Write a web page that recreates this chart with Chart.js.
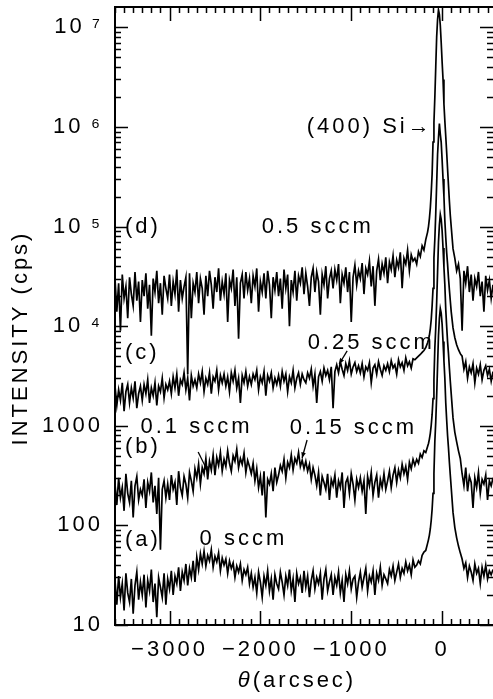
<!DOCTYPE html>
<html>
<head>
<meta charset="utf-8">
<script src="https://cdn.jsdelivr.net/npm/chart.js@4.4.0/dist/chart.umd.min.js"></script>
<style>
  html, body { margin: 0; padding: 0; background: #fff; }
</style>
</head>
<body>
<canvas id="myChart" width="493" height="699"></canvas>
<script>
// scan angles (arcsec): 20" steps on the background, finer steps across the Si peak
var theta = [];
for (var t = -3600; t <= -320; t += 20) theta.push(t);
var peakTheta = [-300, -280, -260, -240, -220, -200, -180, -160,
  -150, -140, -130, -120, -110, -100, -90, -80, -70, -60, -50, -40, -30, -20, -10,
  0, 10, 20, 30, 40, 50, 60, 70, 80, 90, 100,
  120, 140, 160, 180, 200];
var rightTheta = [220, 240, 260, 280, 300, 320, 340, 360, 380, 400, 420, 440, 460, 480, 500, 520, 540, 560];
theta = theta.concat(peakTheta, rightTheta);

// (a) 0 sccm
var curveA = [
  28, 16, 31, 19, 26, 14, 33, 21, 17, 29, 13, 25, 34, 18, 27,
  20, 32, 15, 28, 22, 36, 17, 26, 12, 30, 24, 19, 33, 16, 29,
  23, 35, 20, 31, 26, 38, 22, 34, 28, 41, 25, 37, 30, 44, 27,
  48, 36, 52, 41, 55, 39, 50, 44, 57, 38, 49, 43, 53, 35, 47,
  40, 46, 33, 44, 37, 42, 30, 39, 34, 41, 28, 36, 32, 38, 26,
  33, 24, 30, 21, 34, 27, 19, 31, 25, 35, 22, 29, 18, 32, 26,
  23, 34, 27, 20, 31, 25, 36, 22, 29, 17, 33, 26, 30, 21, 35,
  24, 31, 19, 28, 35, 23, 30, 26, 33, 18, 29, 36, 22, 27, 32,
  20, 30, 25, 34, 21, 28, 17, 32, 26, 35, 23, 29, 31, 19, 27,
  34, 24, 30, 37, 22, 31, 27, 35, 20, 33, 28, 38, 25, 32, 29,
  26, 36, 31, 39, 28, 34, 41, 30, 37, 33, 43, 35, 40, 32, 45,
  // peak
  38, 40, 44, 41, 50, 54, 56, 66,
  72, 80, 92, 112, 145, 210, 330, 700, 1100, 2000, 4000, 8000, 12000,
  15000, 13500, 10500, 7000, 4500, 3000, 1700, 1150, 800, 600, 430, 320, 240,
  135, 95, 75, 62, 53,
  46, 37, 42, 30, 39, 34, 28, 41, 33, 37, 26, 38, 31, 40, 29, 35, 32, 36
];

// (b) 0.1 / 0.15 sccm
var curveB = [
  260, 160, 300, 190, 240, 140, 330, 210, 170, 280, 120, 250, 310, 180, 230,
  200, 290, 150, 270, 220, 340, 170, 250, 130, 300, 57, 230, 280, 190, 260,
  180, 320, 230, 270, 160, 350, 240, 200, 310, 260, 190, 340, 280, 220, 370,
  300, 410, 260, 380, 330, 470, 290, 440, 360, 510, 320, 480, 400, 540, 350,
  460, 390, 560, 420, 350, 500, 440, 580, 380, 470, 410, 530, 340, 450, 390,
  330, 420, 280, 370, 240, 310, 200, 350, 120, 290, 260, 330, 220, 380, 270,
  320, 400, 350, 460, 300, 430, 380, 510, 360, 470, 420, 540, 390, 450, 370,
  440, 350, 410, 290, 380, 320, 250, 340, 200, 310, 270, 230, 330, 180, 290,
  250, 320, 190, 280, 240, 340, 150, 270, 300, 210, 330, 260, 180, 290, 240,
  300, 220, 280, 130, 310, 250, 340, 200, 270, 320, 190, 290, 240, 330, 230,
  280, 350, 240, 320, 380, 270, 360, 300, 410, 330, 390, 290, 430, 370, 460,
  // peak
  400, 460, 420, 520, 480, 560, 540, 620,
  665, 735, 840, 1010, 1300, 1870, 2900, 6100, 9600, 17400, 34800, 69600, 104000,
  132000, 118000, 91000, 61000, 39000, 26000, 14800, 10000, 7000, 5300, 3800, 2800, 2100,
  1200, 860, 690, 560, 470,
  330, 250, 380, 220, 310, 270, 150, 300, 240, 340, 210, 290, 260, 320, 180, 280, 250, 300
];

// (c) 0.25 sccm
var curveC = [
  2500, 1600, 2300, 1800, 2700, 1400, 2200, 2600, 1700, 2400, 1900, 2800, 1500, 2100, 2500,
  1800, 2600, 2100, 2900, 1700, 2400, 2000, 2700, 1600, 2500, 2200, 3000, 1900, 2600, 2300,
  2800, 2100, 3100, 2400, 3300, 2000, 2900, 2600, 3400, 2300, 3000, 1800, 3200, 2500, 2900,
  2400, 3300, 2700, 3500, 2200, 3000, 2600, 3400, 2100, 3100, 2800, 3600, 2300, 3200, 2700,
  3300, 2500, 3100, 2200, 3400, 2800, 3600, 2400, 3000, 1700, 3200, 2700, 3500, 2500, 3100,
  2600, 3300, 2900, 3600, 2300, 3100, 2700, 3500, 2000, 3200, 2800, 3400, 2400, 3000, 2600,
  3200, 2500, 3500, 2800, 3300, 2200, 3100, 2700, 3600, 2400, 3000, 3400, 2600, 3300, 2900,
  2700, 3400, 3000, 3700, 2500, 3300, 1700, 3100, 3500, 2800, 3800, 3200, 3600, 2900, 3900,
  1500, 3500, 4100, 3400, 4400, 3700, 3200, 4200, 3600, 4500, 3300, 3900, 4300, 3500, 4000,
  3400, 4200, 3100, 3900, 3600, 4300, 2700, 3800, 4100, 3300, 4400, 3700, 3200, 4000, 3600,
  4200, 3500, 4500, 3800, 4100, 3300, 4600, 3900, 4300, 3600, 4800, 4000, 4400, 3800, 4700,
  // peak
  4600, 4800, 5000, 5200, 5460, 5700, 6100, 6800,
  7300, 8100, 9400, 11600, 16000, 23900, 48500, 75000, 135000, 268000, 533000, 780000, 1080000,
  850000, 700000, 467000, 301000, 201000, 115000, 78000, 55000, 42000, 30500, 23300, 18000, 14000,
  9600, 7650, 6500, 5800, 5300,
  5000, 3700, 4400, 3000, 3900, 3400, 4200, 2700, 3800, 3300, 4100, 2900, 3600, 4000, 3200, 3700, 2800, 3500
];

// (d) 0.5 sccm
var curveD = [
  30000, 14000, 27000, 9000, 33000, 19000, 25000, 12000, 31000, 21000, 16000, 35000, 18000, 28000, 11000,
  29000, 20000, 34000, 15000, 26000, 8000, 30000, 22000, 36000, 17000, 27000, 13000, 32000, 24000, 19000,
  33000, 16000, 28000, 21000, 37000, 14000, 29000, 19000, 25000, 31000, 3300, 34000, 12000, 27000, 22000,
  35000, 17000, 30000, 24000, 13000, 32000, 20000, 36000, 26000, 15000, 31000, 22000, 38000, 18000, 28000,
  21000, 34000, 11000, 29000, 24000, 37000, 16000, 31000, 7500, 27000, 33000, 19000, 35000, 23000, 30000,
  17000, 32000, 25000, 38000, 14000, 28000, 22000, 34000, 19000, 36000, 26000, 12000, 31000, 23000, 35000,
  20000, 30000, 15000, 37000, 24000, 33000, 10000, 29000, 22000, 36000, 18000, 32000, 27000, 39000, 21000,
  34000, 25000, 16000, 31000, 38000, 22000, 35000, 28000, 13000, 33000, 26000, 40000, 19000, 30000, 36000,
  24000, 37000, 29000, 42000, 17000, 33000, 27000, 39000, 22000, 35000, 11000, 31000, 41000, 26000, 36000,
  30000, 43000, 21000, 38000, 33000, 45000, 25000, 40000, 16000, 36000, 47000, 29000, 42000, 34000, 49000,
  27000, 44000, 37000, 51000, 31000, 46000, 39000, 55000, 24000, 48000, 42000, 58000, 36000, 52000, 45000,
  // peak
  48000, 42000, 56000, 50000, 64000, 58000, 74000, 88000,
  100000, 120000, 153000, 217000, 337000, 706000, 1100000, 2000000, 4000000, 8000000, 12000000,
  15000000, 13500000, 10500000, 7000000, 4500000, 3000000, 1700000, 1150000, 806000, 560000, 380000, 260000, 180000, 130000, 100000,
  60000, 48000, 36000, 42000, 30000,
  9000, 36000, 27000, 40000, 22000, 33000, 18000, 30000, 25000, 35000, 20000, 28000, 14000, 32000, 23000, 29000, 19000, 26000
];

var xTicks = [-3000, -2000, -1000, 0];
var yTicks = [10, 100, 1000, 1e4, 1e5, 1e6, 1e7];
var yTickLabels = ['10', '100', '1000', '10\u2009\u2074', '10\u2009\u2075', '10\u2009\u2076', '10\u2009\u2077'];

var FONT = '"Liberation Sans", Arial, sans-serif';

function toPoints(ys) {
  var pts = [];
  for (var i = 0; i < theta.length; i++) pts.push({ x: theta[i], y: ys[i] });
  return pts;
}

// text notes and arrows, anchored in data coordinates
var notes = [
  ['(d)', -3490, 1.0e5], ['0.5 sccm', -1985, 1.0e5], ['(400) Si\u2192', -1490, 1.0e6],
  ['(c)', -3490, 5400], ['0.25 sccm', -1480, 6800],
  ['(b)', -3490, 620], ['0.1 sccm', -3320, 980], ['0.15 sccm', -1676, 950],
  ['(a)', -3490, 71], ['0 sccm', -2669, 73]
];
var arrows = [
  [-1045, 5640, -1133, 4170],
  [-2685, 546, -2575, 344],
  [-1486, 720, -1541, 475]
];

var frame = {
  id: 'frame',
  beforeDraw: function (chart) {
    chart.ctx.letterSpacing = '3px';
  },
  afterDraw: function (chart) {
    var ctx = chart.ctx, a = chart.chartArea, xs = chart.scales.x, ys = chart.scales.y;
    ctx.save();
    ctx.strokeStyle = '#000';
    ctx.fillStyle = '#000';
    ctx.lineWidth = 2;
    ctx.beginPath();
    ctx.moveTo(a.left - 1, a.top); ctx.lineTo(a.right, a.top);
    ctx.moveTo(a.left, a.top); ctx.lineTo(a.left, a.bottom);
    ctx.moveTo(a.left - 1, a.bottom); ctx.lineTo(a.right, a.bottom);
    ctx.stroke();

    // inward ticks
    ctx.lineWidth = 1.5;
    ctx.beginPath();
    for (var v = -3600; v <= 560; v += 100) {
      var px = Math.round(xs.getPixelForValue(v)) + 0.5;
      var len = (v % 1000 === 0) ? 14 : 6;
      ctx.moveTo(px, a.bottom); ctx.lineTo(px, a.bottom - len);
      ctx.moveTo(px, a.top); ctx.lineTo(px, a.top + len);
    }
    for (var e = 1; e <= 7; e++) {
      for (var m = 1; m <= 9; m++) {
        var val = m * Math.pow(10, e);
        if (val > ys.max) break;
        var py = Math.round(ys.getPixelForValue(val)) + 0.5;
        var l2 = (m === 1) ? 13 : 6;
        ctx.moveTo(a.left, py); ctx.lineTo(a.left + l2, py);
        ctx.moveTo(a.right, py); ctx.lineTo(a.right - l2, py);
      }
    }
    ctx.stroke();

    // notes
    ctx.letterSpacing = '3px';
    ctx.font = '22px ' + FONT;
    ctx.textAlign = 'left';
    ctx.textBaseline = 'middle';
    notes.forEach(function (n) {
      ctx.fillText(n[0], xs.getPixelForValue(n[1]), ys.getPixelForValue(n[2]));
    });
    ctx.lineWidth = 1.3;
    arrows.forEach(function (r) {
      var x0 = xs.getPixelForValue(r[0]), y0 = ys.getPixelForValue(r[1]);
      var x1 = xs.getPixelForValue(r[2]), y1 = ys.getPixelForValue(r[3]);
      var ang = Math.atan2(y1 - y0, x1 - x0);
      ctx.beginPath();
      ctx.moveTo(x0, y0); ctx.lineTo(x1, y1);
      ctx.stroke();
      ctx.beginPath();
      ctx.moveTo(x1, y1);
      ctx.lineTo(x1 - 6 * Math.cos(ang - 0.4), y1 - 6 * Math.sin(ang - 0.4));
      ctx.lineTo(x1 - 6 * Math.cos(ang + 0.4), y1 - 6 * Math.sin(ang + 0.4));
      ctx.closePath();
      ctx.fill();
    });

    // axis titles
    ctx.textBaseline = 'alphabetic';
    ctx.save();
    ctx.translate(27, 338);
    ctx.rotate(-Math.PI / 2);
    ctx.textAlign = 'center';
    ctx.fillText('INTENSITY (cps)', 0, 0);
    ctx.restore();

    ctx.textAlign = 'left';
    ctx.font = 'italic 22px ' + FONT;
    var w1 = ctx.measureText('\u03b8').width;
    ctx.font = '22px ' + FONT;
    var w2 = ctx.measureText('(arcsec)').width;
    var sx = 297 - (w1 + w2) / 2;
    ctx.font = 'italic 22px ' + FONT;
    ctx.fillText('\u03b8', sx, 687);
    ctx.font = '22px ' + FONT;
    ctx.fillText('(arcsec)', sx + w1, 687);
    ctx.restore();
  }
};

var ctx = document.getElementById('myChart').getContext('2d');
var lineStyle = { borderColor: '#000', borderWidth: 1.7, pointRadius: 0, fill: false, tension: 0 };

var myChart = new Chart(ctx, {
  type: 'line',
  data: {
    datasets: [
      Object.assign({ label: '(a) 0 sccm', data: toPoints(curveA) }, lineStyle),
      Object.assign({ label: '(b) 0.1 sccm', data: toPoints(curveB) }, lineStyle),
      Object.assign({ label: '(c) 0.25 sccm', data: toPoints(curveC) }, lineStyle),
      Object.assign({ label: '(d) 0.5 sccm', data: toPoints(curveD) }, lineStyle)
    ]
  },
  options: {
    responsive: false,
    animation: false,
    layout: { padding: { top: 7, right: 0, left: 0, bottom: 0 } },
    plugins: { legend: { display: false }, tooltip: { enabled: false } },
    scales: {
      x: {
        type: 'linear',
        min: -3600,
        max: 560,
        grid: { display: false, drawTicks: false },
        border: { display: false },
        afterBuildTicks: function (s) { s.ticks = xTicks.map(function (v) { return { value: v }; }); },
        afterFit: function (s) { s.height = 74; s.paddingLeft = 0; s.paddingRight = 0; },
        ticks: {
          color: '#000',
          padding: 12,
          maxRotation: 0,
          font: { family: FONT, size: 22 },
          callback: function (v) { return v === 0 ? '0' : (v < 0 ? '\u2212' : '') + Math.abs(v); }
        }
      },
      y: {
        type: 'logarithmic',
        min: 10,
        max: 1.6e7,
        grid: { display: false, drawTicks: false },
        border: { display: false },
        afterBuildTicks: function (s) { s.ticks = yTicks.map(function (v) { return { value: v }; }); },
        afterFit: function (s) { s.width = 115; s.paddingTop = 0; s.paddingBottom = 0; },
        ticks: {
          color: '#000',
          padding: 12,
          font: { family: FONT, size: 22 },
          callback: function (v) { return yTickLabels[yTicks.indexOf(v)]; }
        }
      }
    }
  },
  plugins: [frame]
});
</script>
</body>
</html>
